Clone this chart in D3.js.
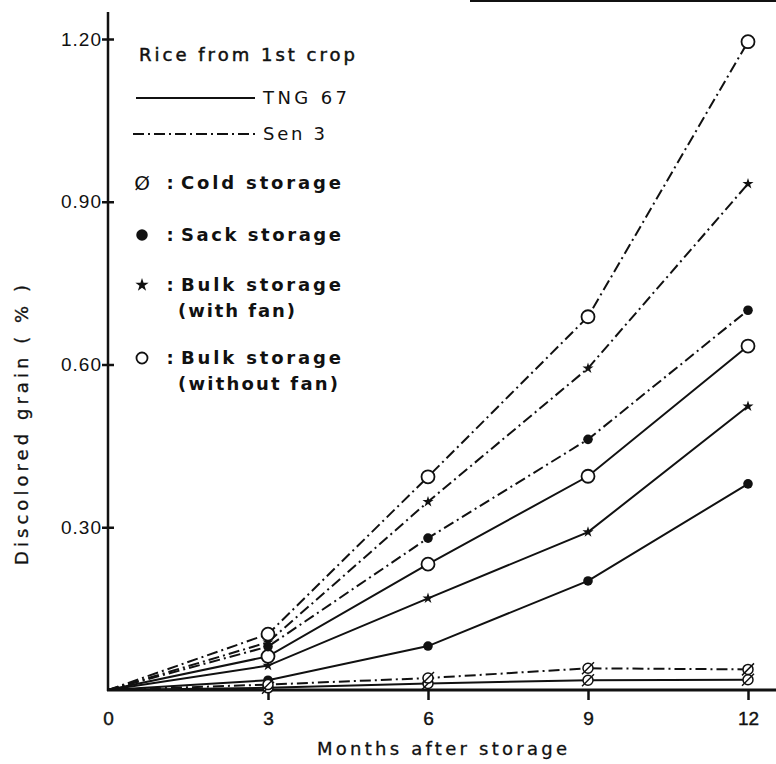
<!DOCTYPE html>
<html>
<head>
<meta charset="utf-8">
<script src="https://cdn.jsdelivr.net/npm/d3@7"></script>
<style>
  body { margin: 0; background: #fff; }
  text { font-family: "Liberation Sans", Arial, sans-serif; fill: #111; }
  .lg { font-family: "DejaVu Sans", "Liberation Sans", sans-serif; }
</style>
</head>
<body>
<div id="chart"></div>
<script>
// months after storage and y tick values
var months = [0, 3, 6, 9, 12];
var yTicks = [0.30, 0.60, 0.90, 1.20];

// discolored grain (%) - TNG 67 (solid lines)
var tngCold = [0, 0.004, 0.012, 0.018, 0.019];
var tngSack = [0, 0.018, 0.081, 0.201, 0.380];
var tngBulkFan = [0, 0.045, 0.169, 0.291, 0.523];
var tngBulkNoFan = [0, 0.062, 0.232, 0.394, 0.634];

// discolored grain (%) - Sen 3 (dash-dot lines)
var senCold = [0, 0.010, 0.022, 0.040, 0.038];
var senSack = [0, 0.080, 0.280, 0.462, 0.700];
var senBulkFan = [0, 0.088, 0.347, 0.593, 0.933];
var senBulkNoFan = [0, 0.103, 0.393, 0.688, 1.195];

var dashDot = "11,4,2,4";

var series = [
  { values: tngCold, dash: null, mark: "cold" },
  { values: tngSack, dash: null, mark: "sack" },
  { values: tngBulkFan, dash: null, mark: "star" },
  { values: tngBulkNoFan, dash: null, mark: "open" },
  { values: senCold, dash: dashDot, mark: "cold" },
  { values: senSack, dash: dashDot, mark: "sack" },
  { values: senBulkFan, dash: dashDot, mark: "star" },
  { values: senBulkNoFan, dash: dashDot, mark: "open" }
];

var W = 776, H = 764;

var svg = d3.select("#chart")
  .append("svg")
  .attr("width", W)
  .attr("height", H);

var x = d3.scaleLinear().domain([0, 12]).range([108, 748]);
var y = d3.scaleLinear().domain([0, 1.2]).range([690, 39]);

// scan border line at the top right
svg.append("line")
  .attr("x1", 470).attr("x2", W).attr("y1", 1).attr("y2", 1)
  .attr("stroke", "#111").attr("stroke-width", 2);

// axis lines
svg.append("line")
  .attr("x1", x(0)).attr("x2", x(0)).attr("y1", y(0) + 1).attr("y2", 12)
  .attr("stroke", "#111").attr("stroke-width", 2.5);
svg.append("line")
  .attr("x1", x(0) - 1).attr("x2", W).attr("y1", y(0)).attr("y2", y(0))
  .attr("stroke", "#111").attr("stroke-width", 3);

// x axis ticks
var xAxis = svg.append("g")
  .attr("transform", "translate(0," + y(0) + ")")
  .call(d3.axisBottom(x).tickValues(months).tickSize(10).tickPadding(12).tickFormat(d3.format("d")));
xAxis.select(".domain").remove();
xAxis.selectAll(".tick line").attr("stroke", "#111").attr("stroke-width", 2.5)
  .filter(function (d) { return d === 0; }).remove();
xAxis.selectAll(".tick text")
  .style("font-size", "19px").style("font-family", "'Liberation Sans', Arial, sans-serif")
  .style("stroke", "#111").style("stroke-width", 0.4)
  .attr("fill", "#111");

// y axis ticks (cross the axis line)
var yAxis = svg.append("g")
  .attr("transform", "translate(" + x(0) + ",0)")
  .call(d3.axisLeft(y).tickValues(yTicks).tickSize(6).tickPadding(0).tickFormat(d3.format(".2f")));
yAxis.select(".domain").remove();
yAxis.selectAll(".tick line").attr("stroke", "#111").attr("stroke-width", 2.5).attr("x2", 6).attr("x1", -6);
yAxis.selectAll(".tick text")
  .style("font-size", "19px").style("font-family", "'Liberation Sans', Arial, sans-serif")
  .style("letter-spacing", "1px")
  .attr("fill", "#111");

// axis titles
svg.append("text")
  .attr("class", "lg")
  .attr("transform", "translate(28,425) rotate(-90)")
  .attr("text-anchor", "middle")
  .attr("textLength", 280).attr("lengthAdjust", "spacing")
  .style("font-size", "18px")
  .style("stroke", "#111").style("stroke-width", 0.3)
  .text("Discolored grain ( % )");

svg.append("text")
  .attr("class", "lg")
  .attr("x", 442).attr("y", 755)
  .attr("text-anchor", "middle")
  .attr("textLength", 250).attr("lengthAdjust", "spacing")
  .style("font-size", "18px")
  .style("stroke", "#111").style("stroke-width", 0.3)
  .text("Months after storage");

// lines
var line = d3.line()
  .x(function (d, i) { return x(months[i]); })
  .y(function (d) { return y(d); });

svg.selectAll(".series")
  .data(series)
  .enter()
  .append("path")
  .attr("class", "series")
  .attr("d", function (s) { return line(s.values); })
  .attr("fill", "none")
  .attr("stroke", "#111")
  .attr("stroke-width", 2)
  .attr("stroke-dasharray", function (s) { return s.dash; });

// markers
function drawMark(g, type, cx, cy, big) {
  var k = big ? 1.2 : 1;
  if (type === "open") {
    g.append("circle").attr("cx", cx).attr("cy", cy).attr("r", 6.5 * (big ? 0.85 : 1))
      .attr("fill", "#fff").attr("stroke", "#111").attr("stroke-width", 1.8);
  } else if (type === "sack") {
    g.append("circle").attr("cx", cx).attr("cy", cy).attr("r", 4.8 * k)
      .attr("fill", "#111");
  } else if (type === "star") {
    g.append("path").attr("d", d3.symbol().type(d3.symbolStar).size(38 * k * k)())
      .attr("transform", "translate(" + cx + "," + cy + ")")
      .attr("fill", "#111");
  } else if (type === "cold") {
    g.append("circle").attr("cx", cx).attr("cy", cy).attr("r", 5)
      .attr("fill", "#fff").attr("stroke", "#111").attr("stroke-width", 1.5);
    g.append("line")
      .attr("x1", cx - 6).attr("y1", cy + 6).attr("x2", cx + 6).attr("y2", cy - 6)
      .attr("stroke", "#111").attr("stroke-width", 1.5);
  }
}

var marks = svg.append("g");
series.forEach(function (s) {
  s.values.forEach(function (v, i) {
    if (months[i] === 0) return;
    drawMark(marks, s.mark, x(months[i]), y(v), false);
  });
});

// legend
var legend = svg.append("g");

legend.append("text")
  .attr("class", "lg")
  .attr("x", 139).attr("y", 61)
  .attr("textLength", 216).attr("lengthAdjust", "spacing")
  .style("font-size", "18px")
  .style("stroke", "#111").style("stroke-width", 0.5)
  .text("Rice from 1st crop");

legend.append("line")
  .attr("x1", 136).attr("x2", 255).attr("y1", 98).attr("y2", 98)
  .attr("stroke", "#111").attr("stroke-width", 2);
legend.append("text")
  .attr("class", "lg")
  .attr("x", 263).attr("y", 104)
  .attr("textLength", 84).attr("lengthAdjust", "spacing")
  .style("font-size", "18px")
  .text("TNG 67");

legend.append("line")
  .attr("x1", 133).attr("x2", 255).attr("y1", 134).attr("y2", 134)
  .attr("stroke", "#111").attr("stroke-width", 2)
  .attr("stroke-dasharray", dashDot);
legend.append("text")
  .attr("class", "lg")
  .attr("x", 263).attr("y", 140)
  .attr("textLength", 62).attr("lengthAdjust", "spacing")
  .style("font-size", "18px")
  .text("Sen 3");

var legendRows = [
  { mark: "coldText", y: 183, lines: ["Cold storage"], widths: [160] },
  { mark: "sack", y: 235, lines: ["Sack storage"], widths: [160] },
  { mark: "star", y: 285, lines: ["Bulk storage", "(with fan)"], widths: [160, 117] },
  { mark: "open", y: 358, lines: ["Bulk storage", "(without fan)"], widths: [160, 160] }
];

legendRows.forEach(function (r) {
  if (r.mark === "coldText") {
    legend.append("text")
      .attr("class", "lg")
      .attr("x", 142).attr("y", r.y + 7)
      .attr("text-anchor", "middle")
      .style("font-size", "20px")
      .text("Ø");
  } else {
    drawMark(legend, r.mark, 142, r.y, true);
  }
  legend.append("text")
    .attr("class", "lg")
    .attr("x", 170).attr("y", r.y + 6)
    .attr("text-anchor", "middle")
    .style("font-size", "18px").style("font-weight", "bold")
    .text(":");
  r.lines.forEach(function (t, j) {
    legend.append("text")
      .attr("class", "lg")
      .attr("x", j === 0 ? 181 : 178).attr("y", r.y + 6 + j * 26)
      .attr("textLength", r.widths[j]).attr("lengthAdjust", "spacing")
      .style("font-size", "18px").style("font-weight", "bold")
      .text(t);
  });
});
</script>
</body>
</html>
